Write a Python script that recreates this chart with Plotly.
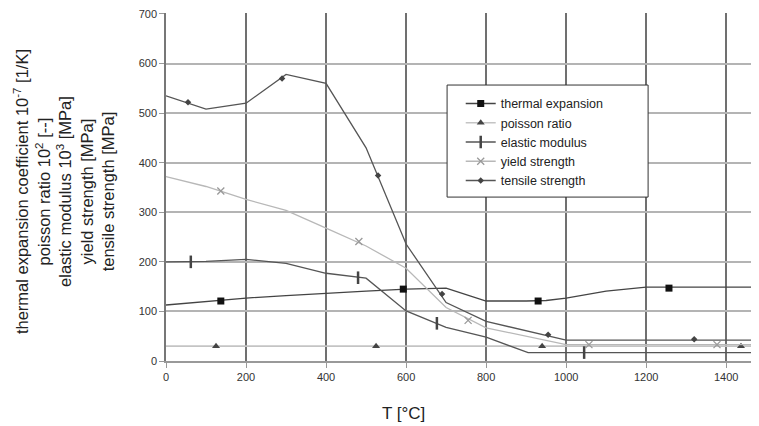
import plotly.graph_objects as go

# ---- data ----
therm_x = [0, 100, 200, 300, 400, 500, 600, 700, 750, 800, 900, 950, 1000, 1100, 1200, 1482]
therm_y = [113, 120, 127, 132, 137, 141, 145, 147, 134, 121, 121, 122, 127, 141, 149, 149]
therm_mx = [137, 593, 930, 1257]
therm_my = [121, 145, 121, 147]

pois_x = [0, 1482]
pois_y = [30, 30]
pois_mx = [125, 525, 940, 1437]
pois_my = [30, 30, 30, 30]

elas_x = [0, 100, 200, 300, 400, 500, 600, 700, 800, 905, 1482]
elas_y = [200, 201, 205, 197, 177, 167, 101, 68, 48, 17, 17]
elas_mx = [62, 480, 677, 1045, 1472]
elas_my = [200, 168, 76, 17, 17]

yield_x = [0, 100, 200, 300, 400, 500, 600, 700, 800, 1000, 1482]
yield_y = [372, 352, 326, 304, 268, 232, 187, 108, 67, 33, 33]
yield_mx = [137, 482, 755, 1057, 1377]
yield_my = [343, 241, 82, 33, 33]

tens_x = [0, 100, 200, 300, 400, 500, 600, 700, 800, 1000, 1482]
tens_y = [535, 508, 520, 578, 560, 430, 236, 118, 80, 42, 42]
tens_mx = [55, 290, 530, 690, 955, 1320]
tens_my = [522, 570, 374, 135, 53, 44]

x_ticks = [0, 200, 400, 600, 800, 1000, 1200, 1400]
y_ticks = [0, 100, 200, 300, 400, 500, 600, 700]

names = ["thermal expansion", "poisson ratio", "elastic modulus", "yield strength", "tensile strength"]

series = [
    (therm_x, therm_y, therm_mx, therm_my, "#444444", 1.3, dict(symbol="square", size=7, color="#111111")),
    (pois_x, pois_y, pois_mx, pois_my, "#c4c4c4", 1.6, dict(symbol="triangle-up", size=7, color="#444444")),
    (elas_x, elas_y, elas_mx, elas_my, "#555555", 1.3, dict(symbol="line-ns", size=9, color="#444444", line=dict(width=2.5, color="#444444"))),
    (yield_x, yield_y, yield_mx, yield_my, "#b8b8b8", 1.3, dict(symbol="x-thin", size=7, color="#999999", line=dict(width=1.3, color="#999999"))),
    (tens_x, tens_y, tens_mx, tens_my, "#555555", 1.3, dict(symbol="diamond", size=5, color="#444444")),
]

fig = go.Figure()
for name, (lx, ly, mx, my, lc, lw, mk) in zip(names, series):
    fig.add_trace(go.Scatter(x=lx, y=ly, mode="lines", line=dict(color=lc, width=lw),
                             showlegend=False, hoverinfo="skip"))
    fig.add_trace(go.Scatter(x=mx, y=my, mode="markers", marker=mk, showlegend=False))
    fig.add_trace(go.Scatter(x=[None], y=[None], mode="lines+markers", name=name,
                             line=dict(color=lc, width=lw), marker=mk))

# page body has an 8px default margin, so the figure is sized/offset to compensate
fig.update_layout(
    width=751, height=418,
    margin=dict(l=158, r=0, t=5, b=65),
    plot_bgcolor="white", paper_bgcolor="white",
    font=dict(family="Liberation Sans, Arial, sans-serif", size=11, color="#333333"),
    showlegend=True,
    legend=dict(x=0.497, y=0.782, xanchor="left", yanchor="top",
                bgcolor="rgba(0,0,0,0)", borderwidth=0,
                font=dict(size=12.5, color="#222222"), tracegroupgap=0),
    xaxis=dict(range=[0, 1482], tickvals=x_ticks,
               showgrid=True, gridcolor="#707070", gridwidth=1.5,
               ticks="outside", ticklen=5, tickcolor="#999999",
               showline=True, linecolor="#999999", linewidth=1.5, zeroline=False),
    yaxis=dict(range=[0, 702], tickvals=y_ticks, ticklabeloverflow="allow",
               showgrid=True, gridcolor="#b4b4b4", gridwidth=2,
               ticks="outside", ticklen=5, tickcolor="#999999",
               showline=True, linecolor="#777777", linewidth=1.5, zeroline=False),
)

# legend box
fig.add_shape(type="rect", xref="paper", yref="paper", x0=0.474, x1=0.813, y0=0.471, y1=0.793,
              line=dict(color="#333333", width=1), fillcolor="white", layer="above")

fig.add_annotation(
    text="thermal expansion coefficient 10<sup>-7</sup> [1/K]<br>poisson ratio 10<sup>2</sup> [--]"
         "<br>elastic modulus 10<sup>3</sup> [MPa]<br>yield strength [MPa]<br>tensile strength [MPa]",
    textangle=-90, xref="paper", yref="paper", x=-0.1716, y=0.486,
    xanchor="center", yanchor="middle", showarrow=False,
    font=dict(size=16.5, color="#222222"))

fig.add_annotation(text="T [°C]", xref="paper", yref="paper", x=0.4, y=-0.15,
                   xanchor="center", yanchor="middle", showarrow=False,
                   font=dict(size=17, color="#222222"))

fig.write_html("out.html")
